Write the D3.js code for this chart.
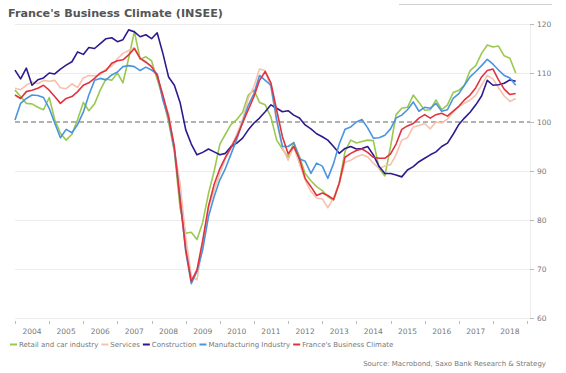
<!DOCTYPE html>
<html><head><meta charset="utf-8">
<script src="https://cdn.jsdelivr.net/npm/d3@7"></script>
<style>
html,body{margin:0;padding:0;background:#fff;}
svg{display:block;font-family:"DejaVu Sans",Verdana,sans-serif;}
</style></head>
<body><svg id="c" width="566" height="373"></svg>
<script>
// bi-monthly observations: Jan, Mar, May, Jul, Sep, Nov from Jan 2004 to Sep 2018
const periods = d3.timeMonth.range(new Date(2004,0,1), new Date(2018,9,1), 2);
const retail = [
106.5,105.2,103.8,103.7,103.0,102.5,
105.0,100.5,97.7,96.3,97.5,100.5,
104.0,102.3,103.7,106.5,108.8,108.5,
110.0,108.0,113.0,118.5,112.8,113.3,
112.5,108.7,105.0,100.0,94.0,82.5,
77.3,77.5,76.0,79.5,85.4,90.0,
95.5,97.5,99.5,100.5,102.0,105.5,
106.5,104.0,103.5,101.0,96.3,94.5,
92.8,95.8,93.0,89.5,88.0,86.8,
86.0,84.8,84.0,87.5,94.0,96.3,
95.7,96.0,96.3,96.2,90.5,89.0,
95.0,101.5,102.8,103.0,105.5,104.0,
102.4,102.5,104.5,102.5,103.5,106.0,
106.5,107.5,110.5,111.5,114.0,115.7,
115.3,115.5,113.5,113.0,110.0];
const services = [
106.9,106.6,107.5,108.2,107.8,108.5,
108.3,108.5,107.0,106.8,107.8,107.0,
109.0,109.5,109.4,109.7,110.8,111.4,
112.9,114.0,114.6,115.2,113.0,112.3,
111.3,109.8,104.5,101.8,94.3,87.5,
76.5,68.5,67.8,75.0,82.5,86.0,
89.5,92.5,95.0,97.5,100.5,104.8,
107.3,110.8,110.5,107.0,100.0,94.8,
92.2,95.0,91.5,88.2,85.8,84.5,
84.3,82.5,84.5,87.5,91.8,92.2,
92.9,93.3,92.9,91.6,90.5,91.0,
91.3,93.3,96.3,96.8,99.0,99.3,
99.7,98.6,100.0,99.8,100.6,102.0,
103.2,103.8,104.5,105.5,107.5,109.5,
108.8,107.0,105.3,104.2,104.8];
const construction = [
110.6,108.8,111.0,107.5,108.6,109.0,
110.0,109.8,110.8,111.6,112.3,114.3,
113.8,115.2,115.0,116.0,117.0,117.2,
116.4,116.8,118.8,118.4,117.4,117.8,
117.0,118.2,114.0,109.2,107.5,104.0,
98.4,95.5,93.3,93.8,94.5,93.9,
93.3,93.6,95.0,95.7,96.7,98.4,
99.8,100.8,102.1,103.5,102.8,102.1,
102.3,101.4,100.8,99.4,98.6,97.6,
97.0,96.3,95.0,93.6,94.6,95.0,
94.5,94.6,95.0,93.3,90.9,89.5,
89.5,89.2,88.8,90.2,90.9,91.9,
92.6,93.3,93.9,95.0,95.7,97.5,
99.5,100.8,102.0,103.5,105.3,108.5,
107.5,107.6,107.9,108.6,108.3];
const manufacturing = [
100.4,103.8,104.8,105.5,105.4,105.0,
102.8,99.8,96.8,98.5,97.8,99.5,
102.0,105.5,108.5,108.9,108.6,109.6,
110.2,111.3,111.5,111.3,110.5,111.2,
110.6,109.8,104.5,100.8,94.3,84.5,
73.5,67.0,69.5,73.9,80.7,84.8,
88.2,90.5,93.5,96.5,100.0,103.4,
105.8,109.5,108.5,107.5,100.5,95.0,
95.0,95.8,92.5,92.0,89.5,91.6,
91.0,88.5,91.5,95.5,98.5,99.0,
100.0,100.5,98.8,96.7,96.8,97.3,
98.6,100.8,101.4,102.5,104.1,102.2,
103.0,102.8,103.8,102.2,102.5,104.8,
105.8,107.5,109.2,110.3,111.5,112.8,
111.8,110.6,109.5,109.0,107.5];
const climate = [
105.5,104.8,106.2,106.5,106.9,107.5,
106.5,105.2,103.8,104.8,105.2,106.2,
107.5,108.0,108.9,110.0,110.5,112.0,
112.5,112.7,113.7,115.0,113.0,112.2,
111.3,109.5,105.5,101.1,95.0,84.0,
74.0,67.5,69.8,75.8,82.8,87.3,
90.5,92.8,94.8,97.0,99.8,102.5,
105.2,108.5,110.3,108.0,102.4,97.0,
93.5,95.0,92.5,88.5,86.8,85.0,
85.5,85.0,84.2,87.5,92.8,93.6,
94.2,94.5,93.8,92.8,92.6,92.6,
93.5,95.5,98.5,99.2,99.7,100.8,
101.5,100.8,101.5,101.8,101.2,102.2,
103.2,104.5,105.5,107.0,109.2,110.5,
110.8,108.6,106.7,105.6,105.8];

const seriesNames = ["Retail and car industry","Services","Construction","Manufacturing Industry","France's Business Climate"];
const seriesColors = ["#9bc94f","#f6c2ad","#2b1b8f","#4a95e0","#e0333e"];
const seriesValues = [retail, services, construction, manufacturing, climate];
const yTicks = [60,70,80,90,100,110,120];
const yearLabels = ["2004","2005","2006","2007","2008","2009","2010","2011","2012","2013","2014","2015","2016","2017","2018"];
const title = "France's Business Climate (INSEE)";
const source = "Source: Macrobond, Saxo Bank Research & Strategy";

const svg = d3.select("#c");
const x = d3.scaleTime().domain([new Date(2004,0,1), new Date(2019,1,1)]).range([15,530]);
const y = d3.scaleLinear().domain([60,120]).range([318,24]);

// title
svg.append("text").attr("x",8).attr("y",17).attr("font-size",11.2).attr("font-weight","bold")
  .attr("fill","#555").text(title);
svg.append("line").attr("x1",399).attr("x2",552).attr("y1",4.5).attr("y2",4.5)
  .attr("stroke","#d0d0d0").attr("stroke-width",1);

// gridlines
svg.append("g").selectAll("line").data(yTicks).join("line")
  .attr("x1",15).attr("x2",530).attr("y1",d=>Math.round(y(d))+0.5).attr("y2",d=>Math.round(y(d))+0.5)
  .attr("stroke",d=>d===100?"none":"#ececec").attr("stroke-width",1);

// right axis
const ya = d3.axisRight(y).tickValues(yTicks).tickSize(4).tickPadding(3);
const gy = svg.append("g").attr("transform","translate(530,0)").call(ya);
gy.select(".domain").attr("stroke","#ececec");
gy.selectAll(".tick line").attr("stroke","#bbb");
gy.selectAll(".tick text").attr("fill","#777").attr("font-size",7.5).attr("font-family","DejaVu Sans");

// bottom axis ticks at year boundaries, labels at mid-year
const yearStarts = d3.timeYear.range(new Date(2004,0,1), new Date(2020,0,1));
svg.append("g").selectAll("line").data(yearStarts).join("line")
  .attr("x1",d=>Math.round(x(d))+0.5).attr("x2",d=>Math.round(x(d))+0.5)
  .attr("y1",321).attr("y2",324).attr("stroke","#bbb");
svg.append("g").selectAll("text").data(yearLabels).join("text")
  .attr("x",d=>x(new Date(+d,6,1))).attr("y",334).attr("text-anchor","middle")
  .attr("font-size",7.5).attr("fill","#777").text(d=>d);

// 100 reference dashed line
svg.append("line").attr("x1",15).attr("x2",530).attr("y1",y(100)).attr("y2",y(100))
  .attr("stroke","#999").attr("stroke-width",1.6).attr("stroke-dasharray","5,3");

// lines
const line = d3.line().x((d,i)=>x(periods[i])).y(d=>y(d));
svg.append("g").selectAll("path").data(seriesValues).join("path")
  .attr("d",d=>line(d)).attr("fill","none")
  .attr("stroke",(d,i)=>seriesColors[i]).attr("stroke-width",1.6)
  .attr("stroke-linejoin","round");

// legend
const lg = svg.append("g");
let lx = 10;
seriesNames.forEach((n,i)=>{
  lg.append("line").attr("x1",lx).attr("x2",lx+7).attr("y1",344.5).attr("y2",344.5)
    .attr("stroke",seriesColors[i]).attr("stroke-width",2);
  const t = lg.append("text").attr("x",lx+9).attr("y",347.3).attr("font-size",7)
    .attr("fill","#777").text(n);
  lx += 9 + t.node().getComputedTextLength() + 3;
});

svg.append("text").attr("x",546).attr("y",366).attr("text-anchor","end")
  .attr("font-size",7).attr("fill","#777").text(source);
</script></body></html>
